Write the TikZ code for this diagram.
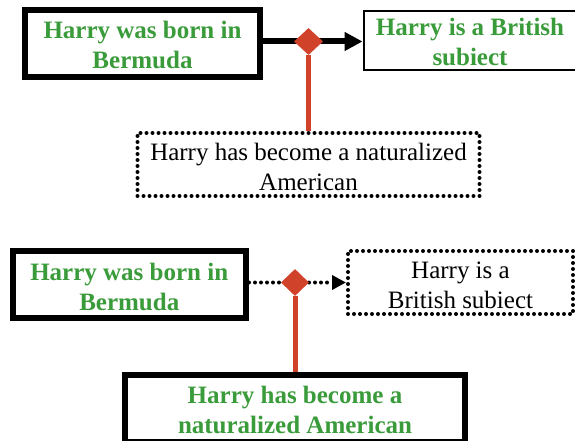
\documentclass[tikz,border=0pt]{standalone}
\usepackage{fontspec}
\setmainfont{Liberation Serif}
\usetikzlibrary{shapes.geometric}
\usetikzlibrary{arrows.meta}
\definecolor{claimgreen}{RGB}{58,155,58}
\definecolor{linkred}{RGB}{208,66,42}
\newcommand{\claimfont}{\fontsize{25}{30}\selectfont}
\tikzstyle{claim}=[draw,line width=6pt,align=center,text height=51pt,text depth=0pt,text=claimgreen,font=\claimfont\bfseries]
\tikzstyle{thinclaim}=[claim,line width=2pt]
\tikzstyle{weakclaim}=[draw,line width=4pt,line cap=round,dash pattern=on 0pt off 6pt,align=center,text height=51pt,text depth=0pt,font=\claimfont]
\tikzstyle{link}=[diamond,fill=linkred,inner sep=0pt,minimum width=29pt,minimum height=27pt]
\tikzstyle{support}=[linkred,line width=5pt]
\tikzstyle{inference}=[line width=6pt,-{Triangle[length=18pt,width=18pt]}]
\tikzstyle{weakinference}=[line width=4pt,line cap=round,dash pattern=on 0pt off 6pt,-{Triangle[length=14pt,width=14pt]}]

\begin{document}
\begin{tikzpicture}[x=1pt,y=-1pt]
  \useasboundingbox (0,0) rectangle (575,441);
  % strong rebuttal
  \node[claim,minimum width=235pt,minimum height=67pt] (born1) at (142.5,43.5) {Harry was born in\\Bermuda};
  \node[thinclaim,minimum width=213pt,minimum height=59pt] (british1) at (470,40.5) {Harry is a British\\subiect};
  \node[weakclaim,minimum width=342pt,minimum height=63pt] (natural1) at (308.5,164.5) {Harry has become a naturalized\\American};
  \coordinate (hub1) at (308.5,41.5);
  \draw[inference] (born1.east |- hub1) -- (british1.west |- hub1);
  \node[link] (link1) at (hub1) {};
  \draw[support] (link1) -- (natural1);
  % weak rebuttal
  \node[claim,minimum width=233.5pt,minimum height=67pt] (born2) at (129.25,284.5) {Harry was born in\\Bermuda};
  \node[weakclaim,minimum width=225pt,minimum height=63pt] (british2) at (460.5,282.5) {Harry is a\\British subiect};
  \node[claim,minimum width=340.5pt,minimum height=67pt] (natural2) at (295,408) {Harry has become a\\naturalized American};
  \coordinate (hub2) at (295,282.5);
  \draw[weakinference] (born2.east |- hub2) -- (british2.west |- hub2);
  \node[link,minimum width=28pt] (link2) at (hub2) {};
  \draw[support] (link2) -- (natural2);
\end{tikzpicture}
\end{document}
